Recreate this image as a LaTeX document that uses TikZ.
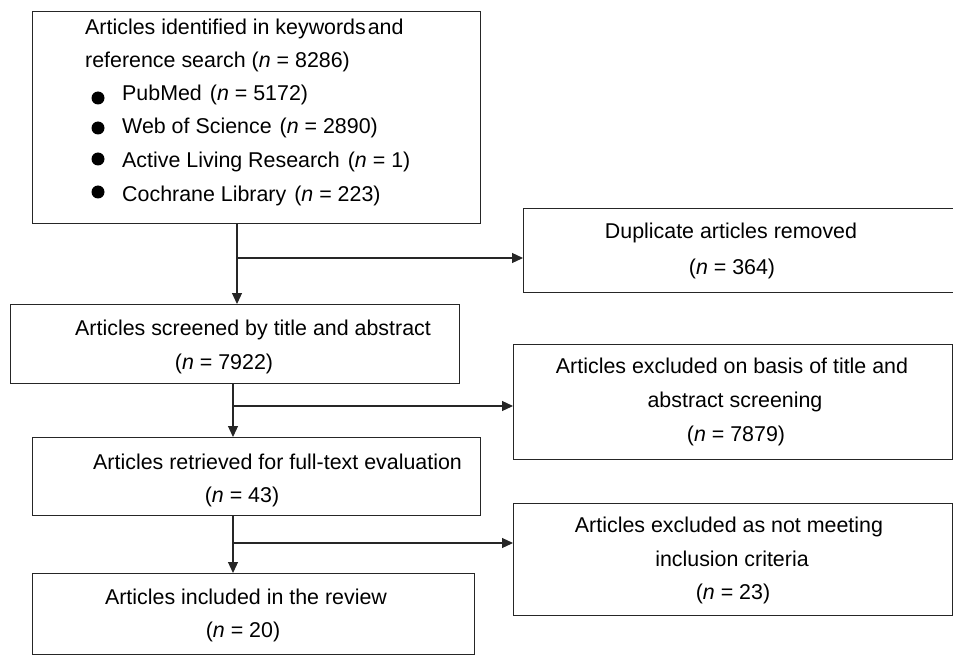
\documentclass[tikz,border=0pt]{standalone}
\usepackage{fontspec}
\setmainfont{Liberation Sans}
\usetikzlibrary{arrows.meta}
\begin{document}
\begin{tikzpicture}[x=1pt,y=-1pt,
 box/.style={draw=black!85, line width=1.2pt, inner sep=0pt, anchor=north west},
 txt/.style={inner sep=0pt, anchor=base, font=\fontsize{21.4}{26}\selectfont},
 ltxt/.style={txt, anchor=base west},
 arr/.style={draw=black!85, line width=1.2pt, -{Triangle[length=11pt,width=10pt]}},
 dot/.style={circle, fill=black, inner sep=0pt, minimum size=13pt}]
\useasboundingbox (0,0) rectangle (953,655);
% boxes
\node[box, minimum width=448pt, minimum height=212pt] (b1) at (32,11) {};
\node[box, minimum width=431pt, minimum height=84pt] (b2) at (523,208) {};
\node[box, minimum width=449pt, minimum height=79pt] (b3) at (10,304) {};
\node[box, minimum width=439pt, minimum height=115pt] (b5) at (513,344) {};
\node[box, minimum width=448pt, minimum height=78pt] (b4) at (32,437) {};
\node[box, minimum width=439pt, minimum height=112pt] (b6) at (513,503) {};
\node[box, minimum width=442pt, minimum height=81pt] (b7) at (32,573) {};
% box 1 text
\node[ltxt] (t1a) at (85,35) {Articles identified in keywords\hspace{2pt}and};
\node[ltxt] (t1b) at (85,68) {reference search (\textit{n} = 8286)};
\node[dot] (d1) at (98,98) {};
\node[dot] (d2) at (98,128) {};
\node[dot] (d3) at (98,159) {};
\node[dot] (d4) at (98,192) {};
\node[ltxt] (t1c) at (122,101) {PubMed\hspace{8pt}(\textit{n} = 5172)};
\node[ltxt] (t1d) at (122,134) {Web of Science\hspace{8pt}(\textit{n} = 2890)};
\node[ltxt] (t1e) at (122,168) {Active Living Research\hspace{8pt}(\textit{n} = 1)};
\node[ltxt] (t1f) at (122,202) {Cochrane Library\hspace{8pt}(\textit{n} = 223)};
% box 2 text
\node[txt] (t2a) at (731,239) {Duplicate articles removed};
\node[txt] (t2b) at (732,274) {(\textit{n} = 364)};
% box 3 text
\node[ltxt] (t3a) at (75,335) {Articles screened by title and abstract};
\node[txt] (t3b) at (224,369) {(\textit{n} = 7922)};
% box 4 text
\node[ltxt] (t4a) at (93,469) {Articles retrieved for full-text evaluation};
\node[txt] (t4b) at (242,502) {(\textit{n} = 43)};
% box 5 text
\node[txt] (t5a) at (732,373) {Articles excluded on basis of title and};
\node[txt] (t5b) at (735,407) {abstract screening};
\node[txt] (t5c) at (736,441) {(\textit{n} = 7879)};
% box 6 text
\node[txt] (t6a) at (729,532) {Articles excluded as not meeting};
\node[txt] (t6b) at (732,566) {inclusion criteria};
\node[txt] (t6c) at (733,599) {(\textit{n} = 23)};
% box 7 text
\node[txt] (t7a) at (246,604) {Articles included in the review};
\node[txt] (t7b) at (243,637) {(\textit{n} = 20)};
% connectors
\coordinate (c1) at (237,258);
\coordinate (c2) at (233,406);
\coordinate (c3) at (233,543);
\draw[arr] (b1.south -| c1) -- (b3.north -| c1);
\draw[arr] (c1) -- (b2.west |- c1);
\draw[arr] (b3.south -| c2) -- (b4.north -| c2);
\draw[arr] (c2) -- (b5.west |- c2);
\draw[arr] (b4.south -| c3) -- (b7.north -| c3);
\draw[arr] (c3) -- (b6.west |- c3);
\end{tikzpicture}
\end{document}
